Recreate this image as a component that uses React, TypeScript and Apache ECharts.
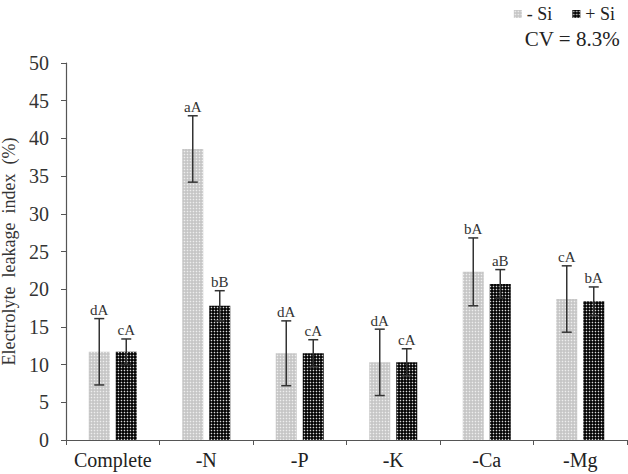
import React, { useEffect, useRef } from "react";
import * as echarts from "echarts";

const categories = ["Complete", "-N", "-P", "-K", "-Ca", "-Mg"];
const minusSi = [11.7, 38.6, 11.5, 10.3, 22.3, 18.7];
const minusSiErr = [4.4, 4.4, 4.3, 4.4, 4.5, 4.4];
const minusSiLetters = ["dA", "aA", "dA", "dA", "bA", "cA"];
const plusSi = [11.7, 17.8, 11.5, 10.3, 20.7, 18.4];
const plusSiErr = [1.7, 2.0, 1.8, 1.8, 1.9, 1.9];
const plusSiLetters = ["cA", "bB", "cA", "cA", "aB", "bA"];
const yTicks = { min: 0, max: 50, interval: 5 };

const FAM = "Liberation Serif";
const BAR_W = 21;
const BAR_GAP = 6;

export default function App() {
  const ref = useRef<HTMLDivElement>(null);
  useEffect(() => {
    document.body.style.margin = "0";
    if (!ref.current) return;
    const chart = echarts.init(ref.current, null, { renderer: "svg" });

    const errData = (vals: number[], errs: number[], letters: string[]) =>
      vals.map((v, i) => [i, v - errs[i], v + errs[i], letters[i]]);

    const makeErr = (offset: number) => (params: any, api: any) => {
      const i = api.value(0);
      const lo = api.coord([i, api.value(1)]);
      const hi = api.coord([i, api.value(2)]);
      const x = lo[0] + offset;
      const cap = 5;
      const st = { stroke: "#333", lineWidth: 1.5 };
      return {
        type: "group",
        children: [
          { type: "line", shape: { x1: x, y1: lo[1], x2: x, y2: hi[1] }, style: st },
          { type: "line", shape: { x1: x - cap, y1: hi[1], x2: x + cap, y2: hi[1] }, style: st },
          { type: "line", shape: { x1: x - cap, y1: lo[1], x2: x + cap, y2: lo[1] }, style: st },
          {
            type: "text",
            style: {
              text: api.value(3) as any,
              x: x,
              y: hi[1] - 1,
              align: "center",
              verticalAlign: "bottom",
              fontFamily: FAM,
              fontSize: 15,
              fill: "#333",
            },
          },
        ],
      };
    };

    const off = (BAR_W + BAR_GAP) / 2;

    chart.setOption({
      animation: false,
      textStyle: { fontFamily: FAM },
      grid: {
        left: 66,
        right: 1,
        top: 63,
        bottom: 34,
        containLabel: false,
        outerBoundsMode: "none",
      },
      legend: {
        right: 8,
        top: 0,
        itemWidth: 8,
        itemHeight: 8,
        itemGap: 20,
        icon: "rect",
        textStyle: { fontFamily: FAM, fontSize: 18, color: "#222" },
        data: ["- Si", "+ Si"],
      },
      xAxis: {
        type: "category",
        data: categories,
        axisLine: { lineStyle: { color: "#555", width: 1.2 } },
        axisTick: { show: true, length: 5, alignWithLabel: false, lineStyle: { color: "#555" } },
        axisLabel: { fontFamily: FAM, fontSize: 20, color: "#222", margin: 10, interval: 0 },
      },
      yAxis: {
        type: "value",
        min: yTicks.min,
        max: yTicks.max,
        interval: yTicks.interval,
        name: "Electrolyte  leakage  index  (%)",
        nameLocation: "middle",
        nameGap: 45,
        nameTextStyle: { fontFamily: FAM, fontSize: 18, color: "#333" },
        axisLine: { show: true, lineStyle: { color: "#555", width: 1.2 } },
        axisTick: { show: true, length: 5, inside: false, lineStyle: { color: "#555" } },
        splitLine: { show: false },
        axisLabel: { fontFamily: FAM, fontSize: 20, color: "#333", margin: 17 },
      },
      series: [
        {
          name: "- Si",
          type: "bar",
          data: minusSi,
          barWidth: BAR_W,
          barGap: `${(BAR_GAP / BAR_W) * 100}%`,
          itemStyle: {
            color: "#c6c6c6",
            decal: {
              symbol: "circle",
              symbolSize: 0.5,
              color: "rgba(255,255,255,0.7)",
              dashArrayX: [3, 0],
              dashArrayY: [3, 0],
              rotation: 0,
            },
          },
        },
        {
          name: "+ Si",
          type: "bar",
          data: plusSi,
          barWidth: BAR_W,
          itemStyle: {
            color: "#050505",
            decal: {
              symbol: "circle",
              symbolSize: 0.5,
              color: "rgba(255,255,255,0.85)",
              dashArrayX: [3, 0],
              dashArrayY: [3, 0],
              rotation: 0,
            },
          },
        },
        {
          type: "custom",
          renderItem: makeErr(-off),
          data: errData(minusSi, minusSiErr, minusSiLetters),
          encode: { x: 0, y: [1, 2] },
          z: 5,
        },
        {
          type: "custom",
          renderItem: makeErr(off),
          data: errData(plusSi, plusSiErr, plusSiLetters),
          encode: { x: 0, y: [1, 2] },
          z: 5,
        },
      ],
      graphic: [
        {
          type: "text",
          right: 8,
          top: 28,
          style: { text: "CV = 8.3%", fontFamily: FAM, fontSize: 21, fill: "#222" },
        },
      ],
    });
    return () => chart.dispose();
  }, []);
  return <div ref={ref} style={{ width: 628, height: 474 }} />;
}
